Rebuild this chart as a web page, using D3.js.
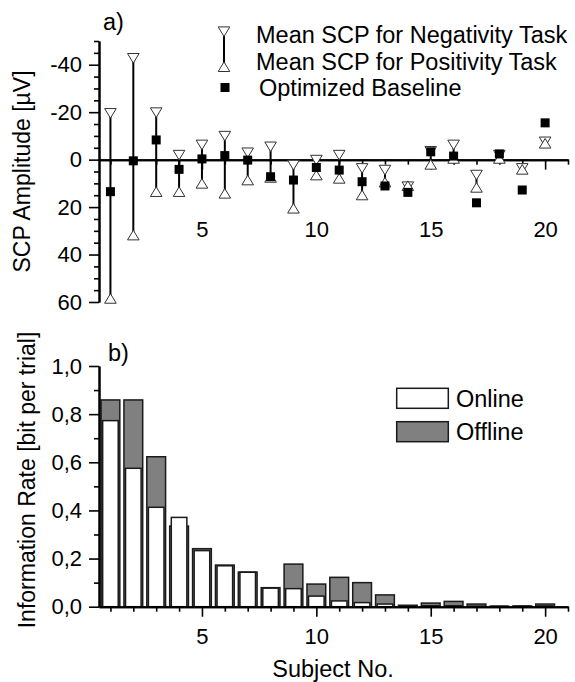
<!DOCTYPE html>
<html><head><meta charset="utf-8">
<script src="https://cdn.jsdelivr.net/npm/d3@7"></script>
<style>
html,body{margin:0;padding:0;background:#fff;}
svg text{font-family:Arial,"Liberation Sans",Helvetica,sans-serif;fill:#000;}
</style></head>
<body>
<svg id="chart" width="575" height="682"></svg>
<script>
// ---- data ----
const subjects = [1,2,3,4,5,6,7,8,9,10,11,12,13,14,15,16,17,18,19,20];
const negativity = [-19.5,-42.7,-19.8,-1.9,-6.2,-9.9,-2.9,-5.4,2.3,0.2,-1.9,3.7,4.4,11.4,-3.5,-6.2,6.5,-1.9,3.7,-7.5];
const positivity = [58.5,31.8,13.5,13.5,10,14.2,8.6,7.5,20.5,6.5,7.9,14.9,9.5,11,2,-0.5,11.7,-0.5,4.1,-6.9];
const baseline   = [13.5,0.5,-8.3,4.1,-0.3,-1.7,0.2,7.2,8.6,3.3,4.4,9.3,11.1,13.8,-3.3,-1.5,18.2,-2.4,12.8,-15.5];
const online  = [0.773,0.575,0.413,0.371,0.233,0.170,0.143,0.077,0.075,0.044,0.024,0.017,0.011,0.003,0.004,0.004,0.002,0.002,0.002,0.003];
const offline = [0.859,0.859,0.623,0.335,0.241,0.173,0.144,0.079,0.177,0.094,0.122,0.100,0.049,0.006,0.015,0.022,0.011,0.002,0.003,0.011];
const xTickLabels = [5,10,15,20];
const xMinorTicks = [1,2,3,4,6,7,8,9,11,12,13,14,16,17,18,19,21];
const yTopTicks = [-40,-20,0,20,40,60];
const yTopMinor = [-50,-45,-35,-30,-25,-15,-10,-5,5,10,15,25,30,35,45,50,55];
const yBotTicks = [0,0.2,0.4,0.6,0.8,1.0];
const yBotMinor = [0.1,0.3,0.5,0.7,0.9];
const legendTop = ["Mean SCP for Negativity Task","Mean SCP for Positivity Task","Optimized Baseline"];
const legendBot = ["Online","Offline"];

const svg = d3.select("#chart");
const FS = 22, FL = 23.5, FT = 23;

const x = d3.scaleLinear([0.5, 21], [99, 568]);
const yTop = d3.scaleLinear([-50, 60], [41, 302]);
const yBot = d3.scaleLinear([0, 1], [606.7, 366]);

function styleAxis(g){
  g.selectAll("path.domain").attr("stroke","#000").attr("stroke-width",2);
  g.selectAll(".tick line").attr("stroke","#000").attr("stroke-width",1.6);
  g.selectAll("text").style("font-size",FS+"px").attr("font-family",null);
}

// ===== panel a =====
const ga = svg.append("g");
ga.append("g").attr("transform",`translate(${x.range()[0]},0)`)
  .call(d3.axisLeft(yTop).tickValues(yTopMinor).tickSize(5).tickSizeOuter(0).tickFormat(""))
  .call(styleAxis);
ga.append("g").attr("transform",`translate(${x.range()[0]},0)`)
  .call(d3.axisLeft(yTop).tickValues(yTopTicks).tickSize(10).tickSizeOuter(0).tickPadding(7)
        .tickFormat(d=>d3.format("d")(d).replace("−","-")))
  .call(styleAxis);
ga.append("g").attr("transform",`translate(0,${yTop(0)})`)
  .call(d3.axisBottom(x).tickValues(xMinorTicks).tickSize(5).tickSizeOuter(0).tickFormat(""))
  .call(styleAxis);
ga.append("g").attr("transform",`translate(0,${yTop(0)})`)
  .call(d3.axisBottom(x).tickValues(xTickLabels).tickSize(10).tickSizeOuter(0).tickPadding(52))
  .call(styleAxis);

function triDown(cx,cy){const w=5.8,h=4.8;return `M${cx-w},${cy-h}L${cx+w},${cy-h}L${cx},${cy+h}Z`;}
function triUp(cx,cy){const w=5.8,h=4.8;return `M${cx-w},${cy+h}L${cx+w},${cy+h}L${cx},${cy-h}Z`;}

const pts = subjects.map((s,i)=>({s,neg:negativity[i],pos:positivity[i],base:baseline[i]}));
ga.append("g").selectAll("line").data(pts).join("line")
  .attr("x1",d=>x(d.s)).attr("x2",d=>x(d.s))
  .attr("y1",d=>yTop(d.neg)).attr("y2",d=>yTop(d.pos))
  .attr("stroke","#000").attr("stroke-width",2);
ga.append("g").selectAll("path").data(pts).join("path")
  .attr("d",d=>triDown(x(d.s),yTop(d.neg)))
  .attr("fill","#fff").attr("stroke","#333").attr("stroke-width",1);
ga.append("g").selectAll("path").data(pts).join("path")
  .attr("d",d=>triUp(x(d.s),yTop(d.pos)))
  .attr("fill","#fff").attr("stroke","#333").attr("stroke-width",1);
ga.append("g").selectAll("rect").data(pts).join("rect")
  .attr("x",d=>x(d.s)-4.5).attr("y",d=>yTop(d.base)-4.5)
  .attr("width",9).attr("height",9).attr("fill","#000");

ga.append("text").attr("x",103).attr("y",30).style("font-size",FL+"px").text("a)");
ga.append("text").attr("transform",`translate(22,${(yTop.range()[0]+yTop.range()[1])/2}) rotate(-90)`)
  .attr("text-anchor","middle").attr("dominant-baseline","central").style("font-size",FT+"px")
  .text("SCP Amplitude [µV]");

// legend a
const la = ga.append("g");
la.append("line").attr("x1",224).attr("x2",224).attr("y1",31.7).attr("y2",66.7).attr("stroke","#000").attr("stroke-width",2);
la.append("path").attr("d",triDown(224,31.7)).attr("fill","#fff").attr("stroke","#333");
la.append("path").attr("d",triUp(224,66.7)).attr("fill","#fff").attr("stroke","#333");
la.append("rect").attr("x",220.5).attr("y",83).attr("width",9).attr("height",9).attr("fill","#000");
const laY=[35,61.7,87.3];
la.selectAll("text").data(legendTop).join("text")
  .attr("x",(d,i)=>i===2?259:256).attr("y",(d,i)=>laY[i]).attr("dy","0.35em")
  .style("font-size",FL+"px").text(d=>d);

// ===== panel b =====
const gb = svg.append("g");
const bars = subjects.map((s,i)=>({s,on:online[i],off:offline[i]}));
gb.append("g").selectAll("rect").data(bars).join("rect")
  .attr("x",d=>x(d.s-0.41)).attr("width",x(0.82)-x(0))
  .attr("y",d=>yBot(d.off)).attr("height",d=>yBot(0)-yBot(d.off))
  .attr("fill","#808080").attr("stroke","#1a1a1a").attr("stroke-width",1.5);
gb.append("g").selectAll("rect").data(bars).join("rect")
  .attr("x",d=>x(d.s-0.34)).attr("width",x(0.68)-x(0))
  .attr("y",d=>yBot(d.on)).attr("height",d=>yBot(0)-yBot(d.on))
  .attr("fill","#fff").attr("stroke","#1a1a1a").attr("stroke-width",1.5);

gb.append("g").attr("transform",`translate(${x.range()[0]},0)`)
  .call(d3.axisLeft(yBot).tickValues(yBotMinor).tickSize(5).tickSizeOuter(0).tickFormat(""))
  .call(styleAxis);
gb.append("g").attr("transform",`translate(${x.range()[0]},0)`)
  .call(d3.axisLeft(yBot).tickValues(yBotTicks).tickSize(10).tickSizeOuter(0).tickPadding(7)
        .tickFormat(d=>d3.format(".1f")(d).replace(".",",")))
  .call(styleAxis);
gb.append("g").attr("transform",`translate(0,${yBot(0)})`)
  .call(d3.axisBottom(x).tickValues(xMinorTicks).tickSize(5).tickSizeOuter(0).tickFormat(""))
  .call(styleAxis);
gb.append("g").attr("transform",`translate(0,${yBot(0)})`)
  .call(d3.axisBottom(x).tickValues(xTickLabels).tickSize(10).tickSizeOuter(0).tickPadding(12))
  .call(styleAxis);

gb.append("text").attr("x",108).attr("y",361).style("font-size",FL+"px").text("b)");
gb.append("text").attr("transform",`translate(27,480) rotate(-90)`)
  .attr("text-anchor","middle").attr("dominant-baseline","central").style("font-size",FT+"px")
  .text("Information Rate [bit per trial]");
gb.append("text").attr("x",333).attr("y",669).attr("text-anchor","middle").attr("dominant-baseline","central")
  .style("font-size",FL+"px").text("Subject No.");

// legend b
const lb = gb.append("g");
const lbFill=["#fff","#808080"], lbY=[388.3,421.7];
lb.selectAll("rect").data(legendBot).join("rect")
  .attr("x",396.7).attr("y",(d,i)=>lbY[i]).attr("width",51.6).attr("height",20)
  .attr("fill",(d,i)=>lbFill[i]).attr("stroke","#1a1a1a").attr("stroke-width",1.5);
lb.selectAll("text").data(legendBot).join("text")
  .attr("x",456).attr("y",(d,i)=>lbY[i]+10).attr("dy","0.35em")
  .style("font-size",FL+"px").text(d=>d);
</script>
</body></html>
